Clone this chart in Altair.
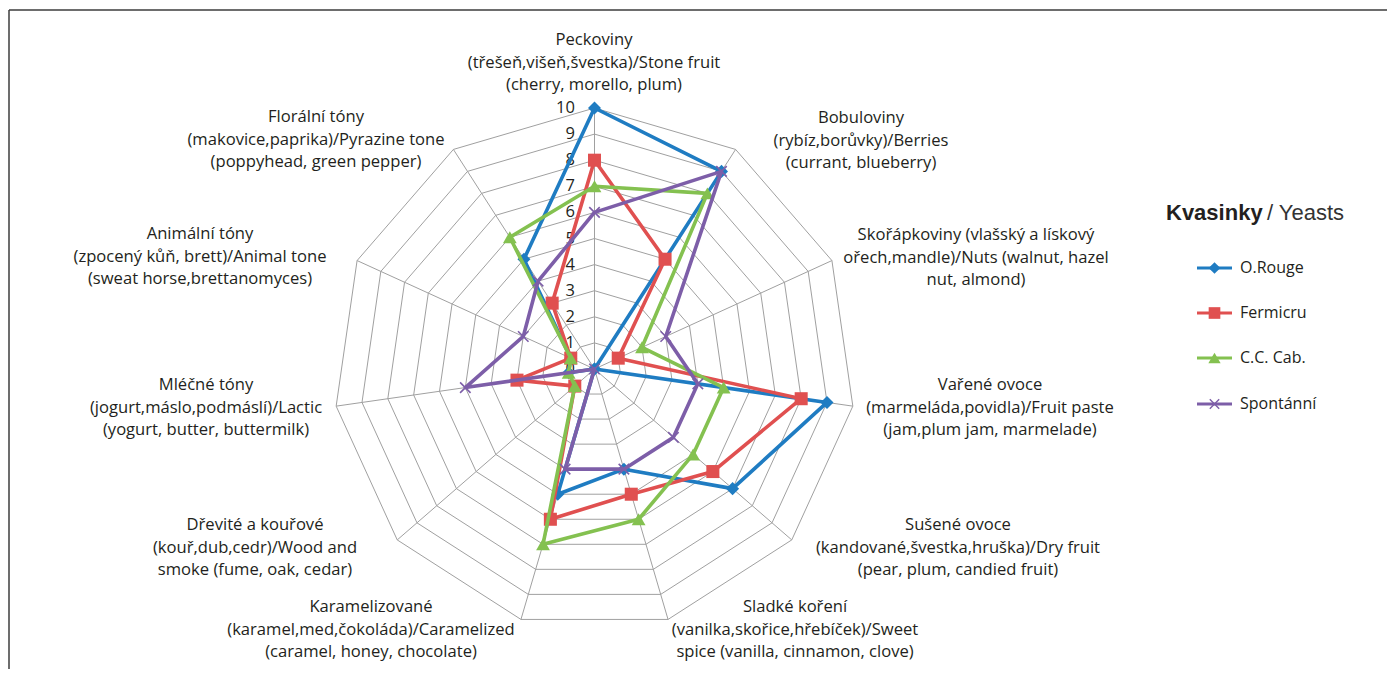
import math
import altair as alt
import pandas as pd

# ---------------- data ----------------
CATEGORIES = [
    "Peckoviny\n(třešeň,višeň,švestka)/Stone fruit\n(cherry, morello, plum)",
    "Bobuloviny\n(rybíz,borůvky)/Berries\n(currant, blueberry)",
    "Skořápkoviny (vlašský  a lískový\nořech,mandle)/Nuts (walnut, hazel\nnut, almond)",
    "Vařené ovoce\n(marmeláda,povidla)/Fruit  paste\n(jam,plum jam,  marmelade)",
    "Sušené ovoce\n(kandované,švestka,hruška)/Dry fruit\n(pear, plum, candied fruit)",
    "Sladké koření\n(vanilka,skořice,hřebíček)/Sweet\nspice (vanilla, cinnamon, clove)",
    "Karamelizované\n(karamel,med,čokoláda)/Caramelized\n(caramel, honey, chocolate)",
    "Dřevité a kouřové\n(kouř,dub,cedr)/Wood and\nsmoke (fume, oak, cedar)",
    "Mléčné tóny\n(jogurt,máslo,podmáslí)/Lactic\n(yogurt, butter, buttermilk)",
    "Animální tóny\n(zpocený kůň, brett)/Animal tone\n(sweat horse,brettanomyces)",
    "Florální tóny\n(makovice,paprika)/Pyrazine tone\n(poppyhead, green pepper)",
]
SERIES = ["O.Rouge", "Fermicru", "C.C. Cab.", "Spontánní"]
O_ROUGE = [10, 9, 0, 9, 7, 4, 5, 0, 1, 1, 5]
FERMICRU = [8, 5, 1, 8, 6, 5, 6, 1, 3, 1, 3]
CC_CAB = [7, 8, 2, 5, 5, 6, 7, 1, 1, 1, 6]
SPONTANNI = [6, 9, 3, 4, 4, 4, 4, 0, 5, 3, 4]
VALUES = [O_ROUGE, FERMICRU, CC_CAB, SPONTANNI]
TICKS = list(range(0, 11))
LEGEND_TITLE_BOLD = "Kvasinky"
LEGEND_TITLE_REST = "/ Yeasts"

# ---------------- styles / layout ----------------
COLORS = ["#1f7cc2", "#e05050", "#84c150", "#7d5ea8"]
SHAPES = ["diamond", "square", "triangle-up", "M-1,-1L1,1M-1,1L1,-1"]
FILLED = [True, True, True, False]
SIZES = [170, 170, 190, 110]
GRID = "#a0a0a0"
TEXT = "#231f20"
FONT = "Open Sans"

CX, CY, UNIT = 594.5, 369.0, 26.1          # page px of radar centre, px per value unit
W, H = 1378, 659
LEFT0, TOP0 = 9, 10                          # page px of the plot origin

# first-line centres (page px) of the 11 category labels
LABEL_POS = [(594, 40), (861, 118), (976, 235), (990, 385), (958, 525),
             (795, 607), (371, 607), (255, 525), (206, 385), (200, 234), (316, 117)]


def ux(px):
    return (px - CX) / UNIT


def uy(py):
    return (CY - py) / UNIT


xscale = alt.Scale(domain=[ux(LEFT0), ux(LEFT0 + W)], nice=False, zero=False)
yscale = alt.Scale(domain=[uy(TOP0 + H), uy(TOP0)], nice=False, zero=False)


def X(f):
    return alt.X(f, type="quantitative", scale=xscale, axis=None)


def Y(f):
    return alt.Y(f, type="quantitative", scale=yscale, axis=None)


N = len(CATEGORIES)


def polar(v, k):
    a = 2 * math.pi * k / N
    return v * math.sin(a), v * math.cos(a)


# grid rings
ring_rows = []
for lvl in range(1, 11):
    for k in range(N + 1):
        x, y = polar(lvl, k % N)
        ring_rows.append({"lvl": lvl, "o": k, "x": x, "y": y})
rings = alt.Chart(pd.DataFrame(ring_rows)).mark_line(color=GRID, strokeWidth=1).encode(
    x=X("x"), y=Y("y"), detail="lvl:N", order="o:Q")

spoke_rows = []
for k in range(N):
    x, y = polar(10, k)
    spoke_rows.append({"x": 0.0, "y": 0.0, "x2": x, "y2": y})
spokes = alt.Chart(pd.DataFrame(spoke_rows)).mark_rule(color=GRID, strokeWidth=1).encode(
    x=X("x"), y=Y("y"), x2="x2:Q", y2="y2:Q")

# tick labels along the top spoke
tick_df = pd.DataFrame({"v": TICKS, "t": [str(t) for t in TICKS], "x": [-0.75] * len(TICKS)})
ticks = alt.Chart(tick_df).mark_text(align="right", baseline="middle", font=FONT,
                                     fontSize=16.5, color=TEXT).encode(
    x=X("x"), y=Y("v"), text="t:N")

# category labels
cat_df = pd.DataFrame({"label": CATEGORIES,
                       "x": [ux(p[0]) for p in LABEL_POS],
                       "y": [uy(p[1]) for p in LABEL_POS]})
cats = alt.Chart(cat_df).mark_text(align="center", baseline="middle", font=FONT, fontSize=16.6,
                                   lineBreak="\n", lineHeight=22.7, color=TEXT).encode(
    x=X("x"), y=Y("y"), text="label:N")

layers = [rings, spokes, ticks, cats]

# series
for i, name in enumerate(SERIES):
    rows = []
    for k in range(N + 1):
        v = VALUES[i][k % N]
        x, y = polar(v, k % N)
        rows.append({"series": name, "o": k, "v": v, "x": x, "y": y,
                     "cat": CATEGORIES[k % N].split("\n")[0]})
    df = pd.DataFrame(rows)
    line = alt.Chart(df).mark_line(color=COLORS[i], strokeWidth=3.6, strokeJoin="round").encode(
        x=X("x"), y=Y("y"), order="o:Q")
    pts = alt.Chart(df[df.o < N]).mark_point(
        shape=SHAPES[i], filled=FILLED[i], size=SIZES[i], color=COLORS[i], opacity=1,
        strokeWidth=1.6).encode(
        x=X("x"), y=Y("y"), tooltip=["series:N", "cat:N", "v:Q"])
    layers += [line, pts]

# legend (manual, like the original)
LEG_Y = [268, 313, 358, 404]
leg_rows = []
for i, name in enumerate(SERIES):
    leg_rows.append({"series": name, "i": i, "x1": ux(1197), "x2": ux(1232), "xm": ux(1214.5),
                     "xt": ux(1240), "y": uy(LEG_Y[i])})
leg_df = pd.DataFrame(leg_rows)
for i, name in enumerate(SERIES):
    d = leg_df[leg_df.i == i]
    layers.append(alt.Chart(d).mark_rule(color=COLORS[i], strokeWidth=3).encode(
        x=X("x1"), x2="x2:Q", y=Y("y")))
    layers.append(alt.Chart(d).mark_point(shape=SHAPES[i], filled=FILLED[i], size=SIZES[i] * 0.8,
                                          color=COLORS[i], opacity=1, strokeWidth=1.4).encode(
        x=X("xm"), y=Y("y")))
layers.append(alt.Chart(leg_df).mark_text(align="left", baseline="middle", font=FONT, fontSize=16,
                                          color=TEXT).encode(
    x=X("xt"), y=Y("y"), text="series:N"))

title_df = pd.DataFrame({"t": [LEGEND_TITLE_BOLD, LEGEND_TITLE_REST],
                         "x": [ux(1166), ux(1267)], "y": [uy(213), uy(213)],
                         "w": ["bold", "normal"]})
layers.append(alt.Chart(title_df[title_df.w == "bold"]).mark_text(
    align="left", baseline="middle", font="Liberation Sans", fontSize=22, fontWeight="bold",
    color=TEXT).encode(x=X("x"), y=Y("y"), text="t:N"))
layers.append(alt.Chart(title_df[title_df.w == "normal"]).mark_text(
    align="left", baseline="middle", font="Liberation Sans", fontSize=22, fontWeight="normal",
    color="#333333").encode(x=X("x"), y=Y("y"), text="t:N"))

# frame (top and left edges visible in the original)
frame_top = alt.Chart(pd.DataFrame({"a": [0]})).mark_rule(color="#3c3c3c", strokeWidth=1.5).encode(
    x=alt.value(0), x2=alt.value(W), y=alt.value(0))
frame_left = alt.Chart(pd.DataFrame({"a": [0]})).mark_rule(color="#3c3c3c", strokeWidth=1.5).encode(
    x=alt.value(0), y=alt.value(0), y2=alt.value(H))
layers += [frame_top, frame_left]

chart = alt.layer(*layers).properties(
    width=W, height=H,
    autosize=alt.AutoSizeParams(type="none"),
    padding={"left": 1, "top": 2, "right": 0, "bottom": 0},
    background="white",
).configure_view(stroke=None)

chart.save("out.html", embed_options={"renderer": "svg", "actions": False})
